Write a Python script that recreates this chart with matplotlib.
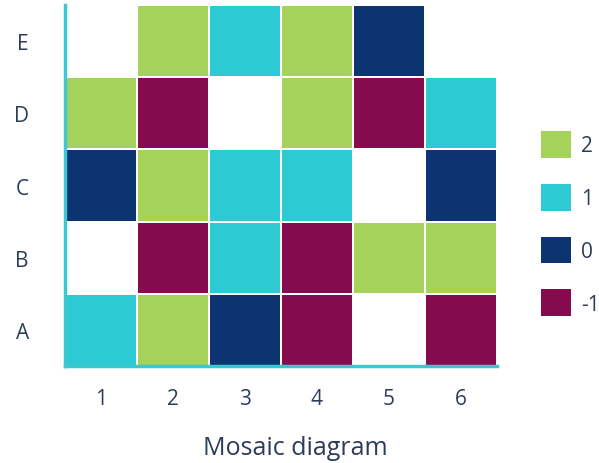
import numpy as np
import matplotlib.pyplot as plt
from matplotlib.colors import ListedColormap, BoundaryNorm
from matplotlib.patches import Patch

plt.rcParams['font.family'] = ['Open Sans', 'DejaVu Sans']

# Data
columns = ['1', '2', '3', '4', '5', '6']
rows = ['A', 'B', 'C', 'D', 'E']
nan = np.nan
values = np.array([
    [1, 2, 0, -1, nan, -1],    # A
    [nan, -1, 1, -1, 2, 2],    # B
    [0, 2, 1, 1, nan, 0],      # C
    [2, -1, nan, 2, -1, 1],    # D
    [nan, 2, 1, 2, 0, nan],    # E
])
levels = [2, 1, 0, -1]
level_colors = ['#a5d25b', '#2ecad3', '#0b3470', '#850b4e']

text_color = '#2d3c5a'
axis_color = '#3cc8d0'

cmap = ListedColormap(level_colors[::-1])
norm = BoundaryNorm([-1.5, -0.5, 0.5, 1.5, 2.5], cmap.N)

fig = plt.figure(figsize=(5.99, 4.64), dpi=100)
ax = fig.add_axes([0.1085, 0.209, 0.7212, 0.778])

ax.pcolormesh(np.ma.masked_invalid(values), cmap=cmap, norm=norm,
              edgecolor='white', linewidth=1.2)

ax.set_xlim(0, len(columns))
ax.set_ylim(0, len(rows))
ax.set_xticks(np.arange(len(columns)) + 0.5)
ax.set_xticklabels(columns)
ax.set_yticks(np.arange(len(rows)) + 0.5)
ax.set_yticklabels(rows)
ax.tick_params(length=0, labelsize=15, colors=text_color, pad=16)
ax.tick_params(axis='y', pad=26)

for side in ['top', 'right']:
    ax.spines[side].set_visible(False)
for side in ['left', 'bottom']:
    ax.spines[side].set_color(axis_color)
    ax.spines[side].set_linewidth(2.5)

ax.set_xlabel('Mosaic diagram', fontsize=18, color=text_color)
ax.xaxis.set_label_coords(0.532, -0.19)

handles = [Patch(facecolor=c, edgecolor='none') for c in level_colors]
fig.legend(handles, [str(v) for v in levels], loc='center left',
           bbox_to_anchor=(0.872, 0.516), frameon=False, fontsize=15,
           handlelength=1.45, handleheight=1.6, labelspacing=1.25,
           handletextpad=0.45, labelcolor=text_color)

plt.savefig('out.png', dpi=100)
